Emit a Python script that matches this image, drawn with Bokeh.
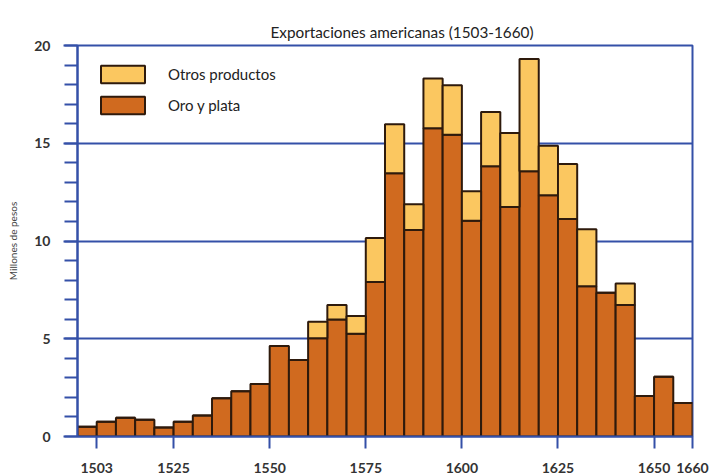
from bokeh.plotting import figure
from bokeh.models import (ColumnDataSource, Legend, LegendItem, FixedTicker,
                          SingleIntervalTicker, Range1d)
from bokeh.embed import file_html
from bokeh.resources import INLINE

# 5-year periods (bin starts), 1500..1655
bin_start = list(range(1500, 1660, 5))
oro_y_plata = [0.50, 0.75, 0.96, 0.86, 0.46, 0.75, 1.08, 1.96, 2.32, 2.69,
               4.63, 3.91, 5.03, 5.99, 5.26, 7.90, 13.47, 10.56, 15.77, 15.43,
               11.03, 13.82, 11.74, 13.57, 12.34, 11.12, 7.68, 7.35, 6.72, 2.07,
               3.06, 1.71]
otros_productos = [0, 0, 0, 0, 0, 0, 0, 0, 0, 0,
                   0, 0, 0.84, 0.73, 0.90, 2.25, 2.50, 1.32, 2.54, 2.54,
                   1.52, 2.78, 3.78, 5.74, 2.53, 2.82, 2.92, 0, 1.10, 0,
                   0, 0]
tick_positions = [1505, 1525, 1550, 1575, 1600, 1625, 1650, 1660]
tick_labels = ["1503", "1525", "1550", "1575", "1600", "1625", "1650", "1660"]
title_text = "Exportaciones americanas (1503-1660)"

BLUE = "#3450A8"
ORANGE = "#D06A1F"
GOLD = "#FBC760"
EDGE = "#2E1A0C"
FONT = "Lato"

src = ColumnDataSource(dict(
    x=[b + 2.5 for b in bin_start],
    oro=oro_y_plata,
    otros=otros_productos,
))

p = figure(width=712, height=475, output_backend="svg", toolbar_location=None,
           x_range=Range1d(1500, 1660), y_range=Range1d(0, 20),
           min_border_left=77, min_border_right=20, min_border_top=45,
           min_border_bottom=38, title=title_text)

p.title.text_font = FONT
p.title.text_font_size = "15.3px"
p.title.text_font_style = "normal"
p.title.text_color = "#222222"
p.title.align = "left"
p.title.offset = 193

rs = p.vbar_stack(["oro", "otros"], x="x", width=5, source=src,
                  fill_color=[ORANGE, GOLD], line_color=EDGE, line_width=2)

legend = Legend(items=[LegendItem(label="Otros productos", renderers=[rs[1]]),
                       LegendItem(label="Oro y plata", renderers=[rs[0]])],
                location="top_left")
legend.margin = 0
legend.padding = 18
legend.glyph_width = 55
legend.glyph_height = 22
legend.spacing = 9
legend.label_standoff = 18
legend.label_text_font = FONT
legend.label_text_font_size = "15px"
legend.label_text_color = "#222222"
legend.border_line_alpha = 0
legend.background_fill_alpha = 0
p.add_layout(legend)

p.background_fill_color = "white"
p.border_fill_color = "white"
p.outline_line_color = BLUE
p.outline_line_width = 2

p.xgrid.grid_line_color = None
p.ygrid.ticker = SingleIntervalTicker(interval=5)
p.ygrid.grid_line_color = BLUE
p.ygrid.grid_line_width = 2

xa = p.xaxis[0]
xa.ticker = FixedTicker(ticks=tick_positions)
xa.major_label_overrides = {t: l for t, l in zip(tick_positions, tick_labels)}
xa.axis_line_color = BLUE
xa.axis_line_width = 2
xa.major_tick_line_color = BLUE
xa.major_tick_line_width = 2
xa.major_tick_out = 12
xa.major_tick_in = 0
xa.minor_tick_line_color = None
xa.major_label_text_font = FONT
xa.major_label_text_font_size = "14px"
xa.major_label_text_font_style = "bold"
xa.major_label_text_color = "#333333"
xa.major_label_standoff = 14

ya = p.yaxis[0]
ya.ticker = SingleIntervalTicker(interval=5, num_minor_ticks=5)
ya.axis_line_color = BLUE
ya.axis_line_width = 2
ya.major_tick_line_color = BLUE
ya.major_tick_line_width = 2
ya.major_tick_out = 14
ya.major_tick_in = 0
ya.minor_tick_line_color = BLUE
ya.minor_tick_line_width = 2
ya.minor_tick_out = 13
ya.minor_tick_in = 0
ya.major_label_text_font = FONT
ya.major_label_text_font_size = "14px"
ya.major_label_text_font_style = "bold"
ya.major_label_text_color = "#333333"
ya.major_label_standoff = 13
ya.axis_label = "Millones de pesos"
ya.axis_label_text_font = FONT
ya.axis_label_text_font_size = "10px"
ya.axis_label_text_font_style = "normal"
ya.axis_label_text_color = "#444444"
ya.axis_label_standoff = 12

open("out.html", "w").write(file_html(p, INLINE))
